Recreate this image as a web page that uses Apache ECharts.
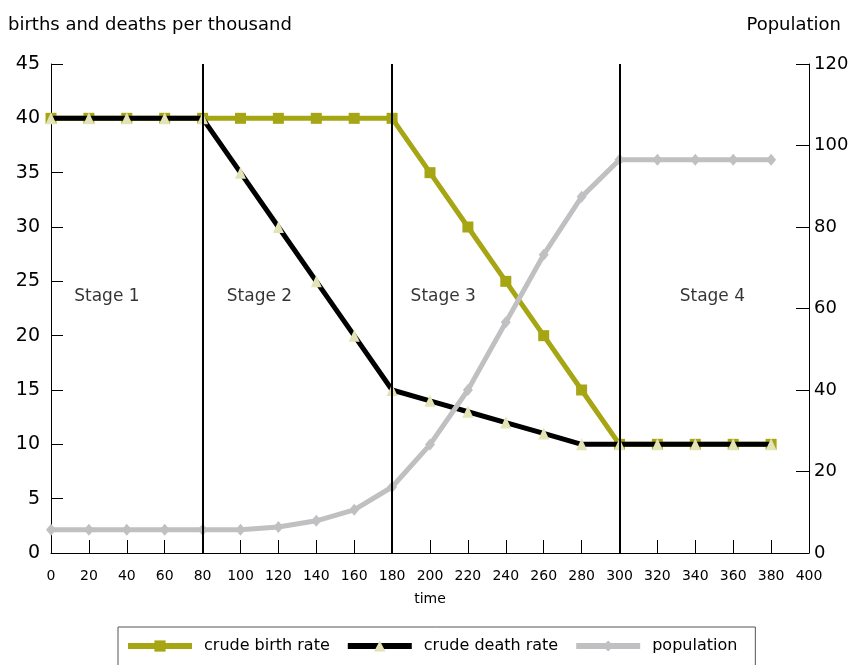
<!DOCTYPE html>
<html>
<head>
<meta charset="utf-8">
<script src="https://cdn.jsdelivr.net/npm/echarts@6/dist/echarts.min.js"></script>
<style>
html,body{margin:0;padding:0;background:#fff;}
#c{width:855px;height:665px;}
</style>
</head>
<body>
<div id="c"></div>
<script>
var timeX = [0,20,40,60,80,100,120,140,160,180,200,220,240,260,280,300,320,340,360,380];
var birthRate = [40,40,40,40,40,40,40,40,40,40,35,30,25,20,15,10,10,10,10,10];
var deathRate = [40,40,40,40,40,35,30,25,20,15,14,13,12,11,10,10,10,10,10,10];
var population = [5.7,5.7,5.7,5.7,5.7,5.7,6.4,7.9,10.6,16.2,26.6,40,56.6,73.2,87.4,96.5,96.5,96.5,96.5,96.5];
var stageBoundaries = [80,180,300];
var stageNames = ['Stage 1','Stage 2','Stage 3','Stage 4'];
var stageX = [29.5,110,207,349];
var stageY = [23.6,23.6,23.6,23.6];

function pairs(xs, ys){ return xs.map(function(x,i){ return [x, ys[i]]; }); }

var FONT = 'DejaVu Sans, sans-serif';
var chart = echarts.init(document.getElementById('c'));
chart.setOption({
  animation: false,
  textStyle: {fontFamily: FONT, color: '#000'},
  title: [
    {text: 'births and deaths per thousand', left: 3, top: 11,
     textStyle: {fontSize: 18, fontWeight: 'normal', color: '#000', fontFamily: FONT}},
    {text: 'Population', right: 9, top: 11,
     textStyle: {fontSize: 18, fontWeight: 'normal', color: '#000', fontFamily: FONT}}
  ],
  grid: {left: 51, right: 46, top: 64, bottom: 112},
  xAxis: {
    type: 'value', min: 0, max: 400, interval: 20,
    name: 'time', nameLocation: 'middle', nameGap: 39,
    nameTextStyle: {fontSize: 14, color: '#000', fontFamily: FONT},
    axisLine: {lineStyle: {color: '#000', width: 1}},
    axisTick: {inside: true, length: 13, lineStyle: {color: '#000'}},
    axisLabel: {fontSize: 14, color: '#000', margin: 16, fontFamily: FONT},
    splitLine: {show: false}
  },
  yAxis: [
    {type: 'value', min: 0, max: 45, interval: 5,
     axisLine: {show: true, lineStyle: {color: '#000', width: 1}},
     axisTick: {show: true, inside: true, length: 12, lineStyle: {color: '#000'}},
     axisLabel: {fontSize: 19, color: '#000', margin: 11, fontFamily: FONT},
     splitLine: {show: false}},
    {type: 'value', min: 0, max: 120, interval: 20, position: 'right',
     axisLine: {show: true, lineStyle: {color: '#000', width: 1}},
     axisTick: {show: true, inside: true, length: 13, lineStyle: {color: '#000'}},
     axisLabel: {fontSize: 18, color: '#000', margin: 5, fontFamily: FONT},
     splitLine: {show: false}}
  ],
  legend: {
    top: 627, left: 118,
    data: ['crude birth rate','crude death rate','population'],
    borderColor: '#555', borderWidth: 1,
    padding: [11, 18, 30, 7],
    itemWidth: 64, itemHeight: 14, itemGap: 15,
    lineStyle: {width: 6},
    textStyle: {fontSize: 16, color: '#000', fontFamily: FONT, padding: [0,0,0,7]}
  },
  series: [
    {name: 'crude birth rate', type: 'line', yAxisIndex: 0,
     data: pairs(timeX, birthRate),
     symbol: 'rect', symbolSize: 11, showAllSymbol: true,
     lineStyle: {color: '#a6a614', width: 5},
     itemStyle: {color: '#a6a614', borderWidth: 0},
     markLine: {silent: true, symbol: 'none', label: {show: false},
       lineStyle: {color: '#000', width: 2, type: 'solid'},
       data: stageBoundaries.map(function(v){ return {xAxis: v}; })},
     z: 2},
    {name: 'crude death rate', type: 'line', yAxisIndex: 0,
     data: pairs(timeX, deathRate),
     symbol: 'triangle', symbolSize: [11, 12], showAllSymbol: true,
     lineStyle: {color: '#000', width: 5},
     itemStyle: {color: '#e3e3b5', borderWidth: 0},
     z: 3},
    {name: 'population', type: 'line', yAxisIndex: 1,
     data: pairs(timeX, population),
     symbol: 'diamond', symbolSize: [10, 12], showAllSymbol: true,
     lineStyle: {color: '#c0c0c2', width: 5},
     itemStyle: {color: '#c0c0c2', borderWidth: 0},
     z: 4},
    {name: 'stages', type: 'scatter', yAxisIndex: 0, symbolSize: 0,
     data: stageNames.map(function(n,i){ return {name: n, value: [stageX[i], stageY[i]]}; }),
     label: {show: true, position: 'inside', formatter: '{b}', fontSize: 17, color: '#000', fontFamily: FONT},
     silent: true, z: 5}
  ]
});
</script>
</body>
</html>
